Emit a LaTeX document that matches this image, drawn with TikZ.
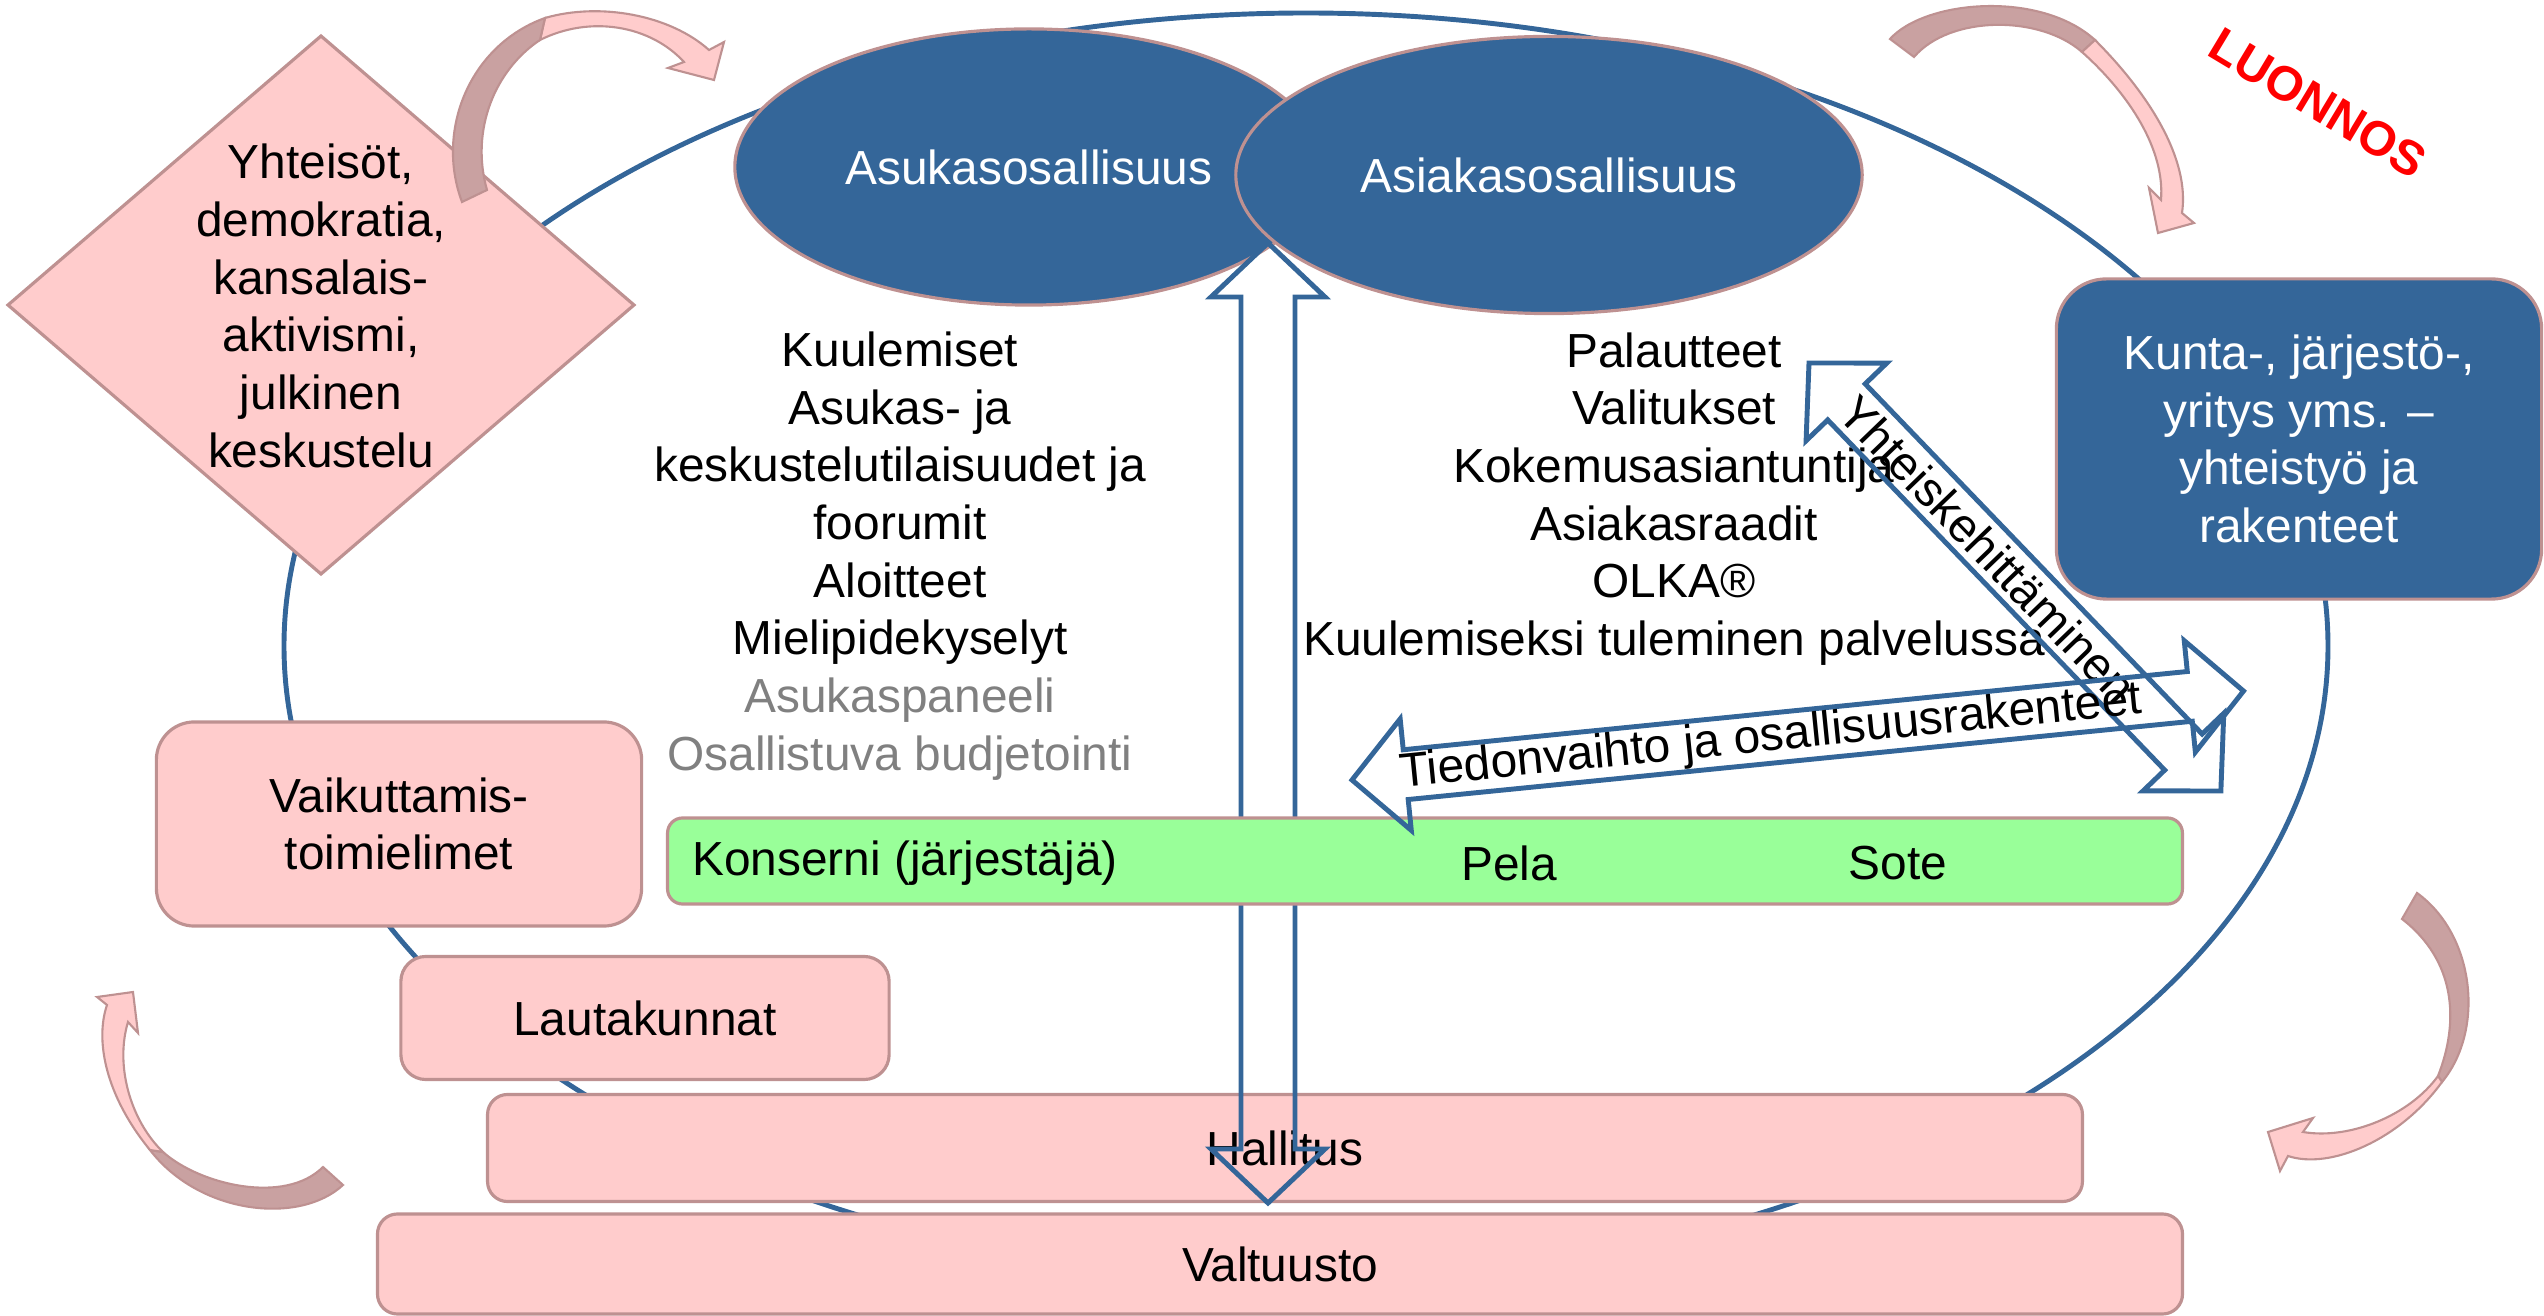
\documentclass[tikz,border=0pt]{standalone}
\usepackage{fontspec}
\setmainfont{Liberation Sans}
\usetikzlibrary{shapes.geometric}
\definecolor{ringblue}{RGB}{52,102,153}
\definecolor{rosyline}{RGB}{190,145,145}
\definecolor{pinkfill}{RGB}{255,204,204}
\definecolor{darkpink}{RGB}{201,161,161}
\definecolor{greenfill}{RGB}{153,255,153}
\definecolor{greytext}{RGB}{128,128,128}

\begin{document}
\begin{tikzpicture}[x=0.01cm,y=-0.01cm,
  every node/.style={font=\fontsize{13.6}{16.4}\selectfont},
  pinkbox/.style={draw=rosyline,line width=0.9pt,fill=pinkfill,rounded corners=0.3cm,inner sep=0pt,align=center},
  bluebox/.style={draw=rosyline,line width=0.9pt,fill=ringblue,text=white,inner sep=0pt,align=center},
  blockarrow/.style={draw=ringblue,line width=1.4pt,line join=miter},
  curvlight/.style={draw=rosyline,line width=0.6pt,fill=pinkfill},
  curvdark/.style={draw=rosyline,line width=0.6pt,fill=darkpink}]
\useasboundingbox (0,0) rectangle (2544,1316);
\clip (0,0) rectangle (2544,1316);

% Ring:
\draw[ringblue,line width=1.4pt] (1306,646) ellipse (1022 and 633);

% Diamond and its arrow:
\draw[draw=rosyline,line width=0.9pt,fill=pinkfill] (321,36) -- (634,305) -- (321,574) -- (8,305) -- cycle;
\node (yhteisot) [align=center] at (321,306) {Yhteisöt,\\demokratia,\\kansalais-\\aktivismi,\\julkinen\\keskustelu};
\draw[curvlight] (545,18) .. controls (600,2) and (670,15) .. (709,50) -- (724,42) -- (714,80) -- (668,68) -- (684,62) .. controls (650,25) and (590,15) .. (540,40) -- cycle;
\draw[curvdark] (462,202) .. controls (435,130) and (470,45) .. (545,18) -- (540,40) .. controls (495,70) and (470,130) .. (487,190) -- cycle;

% Ellipses:
\node (asukas) [bluebox,ellipse,minimum width=5.88cm,minimum height=2.76cm] at (1029,167) {Asukasosallisuus};
\node (asiakas) [bluebox,ellipse,minimum width=6.26cm,minimum height=2.77cm] at (1549,175) {Asiakasosallisuus};
\node (kunta) [bluebox,rounded corners=0.5cm,minimum width=4.85cm,minimum height=3.2cm] at (2299,439) {Kunta-, järjestö-,\\yritys yms. --\\yhteistyö ja\\rakenteet};

% Lists:
\node (kuuleminen) [align=center] at (900,556) {Kuulemiset\\Asukas- ja\\keskustelutilaisuudet ja\\foorumit\\Aloitteet\\Mielipidekyselyt\\\textcolor{greytext}{Asukaspaneeli}\\\textcolor{greytext}{Osallistuva budjetointi}};
\node (palaute) [align=center] at (1674,499) {Palautteet\\Valitukset\\Kokemusasiantuntija\\Asiakasraadit\\OLKA®\\Kuulemiseksi tuleminen palvelussa};

% Boxes:
\node (vaikuttamis) [pinkbox,rounded corners=0.38cm,minimum width=4.85cm,minimum height=2.04cm] at (399,824) {Vaikuttamis-\\toimielimet};
\node (lautakunnat) [pinkbox,rounded corners=0.25cm,minimum width=4.88cm,minimum height=1.23cm] at (645,1018) {Lautakunnat};
\node (hallitus) [pinkbox,rounded corners=0.2cm,minimum width=15.94cm,minimum height=1.07cm] at (1285,1148) {Hallitus};
\node (valtuusto) [pinkbox,rounded corners=0.2cm,minimum width=18.04cm,minimum height=1.0cm] at (1280,1264) {Valtuusto};

% Vertical arrow:
\draw[blockarrow] (1268,243) -- (1325,297) -- (1295,297) -- (1295,1149) -- (1325,1149) -- (1268,1203) -- (1211,1149) -- (1241,1149) -- (1241,297) -- (1211,297) -- cycle;

% Green bar:
\node (palkki) [draw=rosyline,line width=0.9pt,fill=greenfill,rounded corners=0.15cm,minimum width=15.14cm,minimum height=0.86cm] at (1425,861) {};
\node (konserni) [] at (905,863) {Konserni (järjestäjä)};
\node (pela) [] at (1509,863) {Pela};
\node (sote) [] at (1898,863) {Sote};

% Diagonal arrows:
\begin{scope}[shift={(1809,363)},rotate=-46.1]
\draw[blockarrow] (0,0) -- (54,56) -- (54,26) -- (540,26) -- (540,56) -- (594,0) -- (540,-56) -- (540,-26) -- (54,-26) -- (54,-56) -- cycle;
\node (yhteis) [transform shape] at (258,0) {Yhteiskehittäminen};
\end{scope}
\begin{scope}[shift={(1352,780)},rotate=5.7]
\draw[blockarrow] (0,0) -- (54,56) -- (54,25) -- (842,25) -- (842,56) -- (896,0) -- (842,-56) -- (842,-25) -- (54,-25) -- (54,-56) -- cycle;
\node (tiedon) [transform shape] at (421,0) {Tiedonvaihto ja osallisuusrakenteet};
\end{scope}

\node (luonnos) [font=\bfseries\fontsize{13.8}{16}\selectfont,text=red,rotate=-31] at (2318,103) {LUONNOS};

% Curved arrows:
\draw[curvdark] (1890,39) .. controls (1925,0) and (2040,-10) .. (2095,40) -- (2082,52) .. controls (2040,15) and (1950,15) .. (1914,57) -- cycle;
\draw[curvlight] (2095,40) .. controls (2150,95) and (2190,160) .. (2182,213) -- (2194,223) -- (2158,233) -- (2149,188) -- (2161,200) .. controls (2165,150) and (2130,95) .. (2082,52) -- cycle;
\draw[curvdark] (343,1185) .. controls (300,1225) and (200,1215) .. (150,1150) -- (163,1152) .. controls (200,1185) and (285,1205) .. (323,1167) -- cycle;
\draw[curvlight] (150,1150) .. controls (105,1095) and (95,1040) .. (107,1005) -- (97,997) -- (133,992) -- (138,1033) -- (128,1022) .. controls (115,1065) and (130,1120) .. (163,1152) -- cycle;
\draw[curvdark] (2417,893) .. controls (2475,935) and (2485,1030) .. (2442,1082) -- (2438,1076) .. controls (2460,1020) and (2455,960) .. (2402,919) -- cycle;
\draw[curvlight] (2442,1082) .. controls (2400,1140) and (2330,1170) .. (2288,1156) -- (2280,1171) -- (2268,1132) -- (2313,1118) -- (2303,1132) .. controls (2350,1140) and (2410,1115) .. (2438,1076) -- cycle;
\end{tikzpicture}
\end{document}
